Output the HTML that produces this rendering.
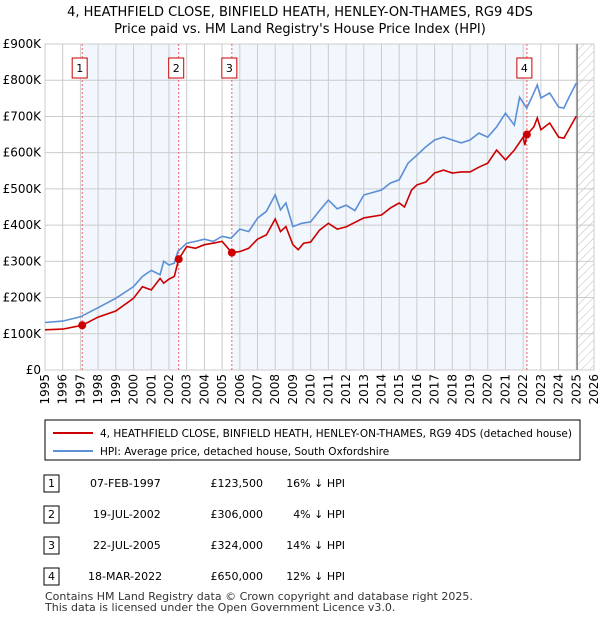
<!DOCTYPE html>
<html><head><meta charset="utf-8"><style>
body{margin:0;background:#fff;font-family:"Liberation Sans","DejaVu Sans",sans-serif}
svg{display:block}
</style></head><body>
<svg id="c" width="600" height="620" xmlns="http://www.w3.org/2000/svg" font-family="DejaVu Sans, Liberation Sans, sans-serif">
<text x="300" y="16" text-anchor="middle" font-size="13">4, HEATHFIELD CLOSE, BINFIELD HEATH, HENLEY-ON-THAMES, RG9 4DS</text>
<text x="300" y="33" text-anchor="middle" font-size="13">Price paid vs. HM Land Registry's House Price Index (HPI)</text>
<defs><pattern id="h" width="6" height="6" patternUnits="userSpaceOnUse" patternTransform="rotate(45)"><line x1="0" y1="0" x2="0" y2="6" stroke="#bbb" stroke-width="1"/></pattern></defs>
<g id="g"></g>
<rect x="45" y="420" width="535" height="40" fill="#fff" stroke="#000"/>
<line x1="53" y1="433" x2="93" y2="433" stroke="#cc0000" stroke-width="2"/>
<text x="100" y="437" font-size="10.5" textLength="472" lengthAdjust="spacingAndGlyphs">4, HEATHFIELD CLOSE, BINFIELD HEATH, HENLEY-ON-THAMES, RG9 4DS (detached house)</text>
<line x1="53" y1="451" x2="93" y2="451" stroke="#5b8fd6" stroke-width="2"/>
<text x="100" y="455" font-size="10.5">HPI: Average price, detached house, South Oxfordshire</text>
<g font-size="11">
<rect x="44" y="475" width="15" height="17" fill="#fff" stroke="#000"/><text x="51.5" y="487" text-anchor="middle">1</text>
<text x="90" y="487">07-FEB-1997</text><text x="263" y="487" text-anchor="end">£123,500</text><text x="345" y="487" text-anchor="end">16% ↓ HPI</text>
<rect x="44" y="506" width="15" height="17" fill="#fff" stroke="#000"/><text x="51.5" y="518" text-anchor="middle">2</text>
<text x="93" y="518">19-JUL-2002</text><text x="263" y="518" text-anchor="end">£306,000</text><text x="345" y="518" text-anchor="end">4% ↓ HPI</text>
<rect x="44" y="537" width="15" height="17" fill="#fff" stroke="#000"/><text x="51.5" y="549" text-anchor="middle">3</text>
<text x="93" y="549">22-JUL-2005</text><text x="263" y="549" text-anchor="end">£324,000</text><text x="345" y="549" text-anchor="end">14% ↓ HPI</text>
<rect x="44" y="568" width="15" height="17" fill="#fff" stroke="#000"/><text x="51.5" y="580" text-anchor="middle">4</text>
<text x="88" y="580">18-MAR-2022</text><text x="263" y="580" text-anchor="end">£650,000</text><text x="345" y="580" text-anchor="end">12% ↓ HPI</text>
</g>
<text x="45" y="600" font-size="11" fill="#333">Contains HM Land Registry data © Crown copyright and database right 2025.</text>
<text x="45" y="611" font-size="11" fill="#333">This data is licensed under the Open Government Licence v3.0.</text>
</svg>
<script>
const hpiX=[1995,1996,1997,1998,1999,2000,2000.5,2001,2001.5,2001.7,2002,2002.3,2002.5,2003,2003.5,2004,2004.5,2005,2005.5,2006,2006.5,2007,2007.5,2008,2008.3,2008.6,2009,2009.5,2010,2010.5,2011,2011.5,2012,2012.5,2013,2014,2014.5,2015,2015.5,2016,2016.5,2017,2017.5,2018,2018.5,2019,2019.5,2020,2020.5,2021,2021.5,2021.8,2022.2,2022.5,2022.8,2023,2023.5,2024,2024.3,2024.6,2025];
const hpiY=[131,135,147,172,198,230,258,275,263,300,290,295,327,350,355,361,355,369,364,389,382,419,438,484,442,461,396,405,409,440,469,445,455,440,483,497,516,525,571,593,616,635,643,635,627,635,654,643,671,709,676,753,723,754,787,751,765,726,723,754,792];
const propX=[1995,1996,1997.1,1998,1999,2000,2000.5,2001,2001.5,2001.7,2002,2002.3,2002.55,2003,2003.5,2004,2004.5,2005,2005.4,2005.55,2006,2006.5,2007,2007.5,2008,2008.3,2008.6,2009,2009.3,2009.6,2010,2010.5,2011,2011.5,2012,2013,2014,2014.5,2015,2015.3,2015.7,2016,2016.5,2017,2017.5,2018,2018.5,2019,2019.5,2020,2020.5,2021,2021.5,2022,2022.1,2022.21,2022.6,2022.8,2023,2023.5,2024,2024.3,2025];
const propY=[111,113,123.5,146,163,198,230,221,253,240,251,258,306,341,336,346,350,355,332,324,327,336,361,373,417,382,396,346,332,350,353,386,405,389,395,420,428,447,461,450,497,511,519,544,552,544,547,547,560,571,607,580,607,643,621,650,671,696,663,682,643,640,701];
const saleX=[1997.1,2002.55,2005.55,2022.21];
const saleY=[123.5,306,324,650];
const saleLabels=["1","2","3","4"];
const yTicks=[0,100,200,300,400,500,600,700,800,900];
const yTickLabels=["£0","£100K","£200K","£300K","£400K","£500K","£600K","£700K","£800K","£900K"];
const xTicks=[1995,1996,1997,1998,1999,2000,2001,2002,2003,2004,2005,2006,2007,2008,2009,2010,2011,2012,2013,2014,2015,2016,2017,2018,2019,2020,2021,2022,2023,2024,2025,2026];
const L=45,R=594,T=44,B=370;
const sx=v=>L+(v-1995)/31*(R-L);
const sy=v=>B-v/900*(B-T);
const g=document.getElementById('g');
const NS='http://www.w3.org/2000/svg';
function mk(t,a){const e=document.createElementNS(NS,t);for(const k in a)e.setAttribute(k,a[k]);g.appendChild(e);return e;}
let e;
for(let i=0;i<saleX.length-1;i+=2){
e=mk('rect',{x:sx(saleX[i]),y:T,width:sx(saleX[i+1])-sx(saleX[i]),height:B-T,fill:'#f2f6fd'});


}
e=mk('rect',{x:sx(2025.05),y:T,width:R-sx(2025.05),height:B-T,fill:'url(#h)'});


xTicks.forEach(v=>{
e=mk('line',{x1:sx(v),y1:T,x2:sx(v),y2:B,stroke:'#ccc'});


e=mk('text',{x:0,y:0,'font-size':12,'text-anchor':'end',transform:`translate(${sx(v)+4},${B+4}) rotate(-90)`});
e.textContent=v;


});
yTicks.forEach((v,i)=>{
e=mk('line',{x1:L,y1:sy(v),x2:R,y2:sy(v),stroke:'#ccc'});


e=mk('text',{x:L-4,y:sy(v)+4,'font-size':12,'text-anchor':'end'});
e.textContent=yTickLabels[i];


});
e=mk('rect',{x:L,y:T,width:R-L,height:B-T,fill:'none',stroke:'#ccc'});


e=mk('line',{x1:sx(2025.05),y1:T,x2:sx(2025.05),y2:B,stroke:'#888','stroke-width':1.5});


saleX.forEach((v,i)=>{
e=mk('line',{x1:sx(v),y1:T,x2:sx(v),y2:B,stroke:'#f06060','stroke-dasharray':'2,2'});


});
e=mk('path',{d:hpiX.map((x,i)=>(i?'L':'M')+sx(x).toFixed(1)+','+sy(hpiY[i]).toFixed(1)).join(''),fill:'none',stroke:'#5b8fd6','stroke-width':1.6});


e=mk('path',{d:propX.map((x,i)=>(i?'L':'M')+sx(x).toFixed(1)+','+sy(propY[i]).toFixed(1)).join(''),fill:'none',stroke:'#cc0000','stroke-width':1.6});


saleX.forEach((v,i)=>{
e=mk('circle',{cx:sx(v),cy:sy(saleY[i]),r:4,fill:'#cc0000'});


e=mk('rect',{x:sx(v)-10,y:58,width:15,height:20,fill:'#fff',stroke:'#cc0000'});


e=mk('text',{x:sx(v)-2.5,y:72,'font-size':11,'text-anchor':'middle'});
e.textContent=saleLabels[i];


});
</script>
</body></html>
